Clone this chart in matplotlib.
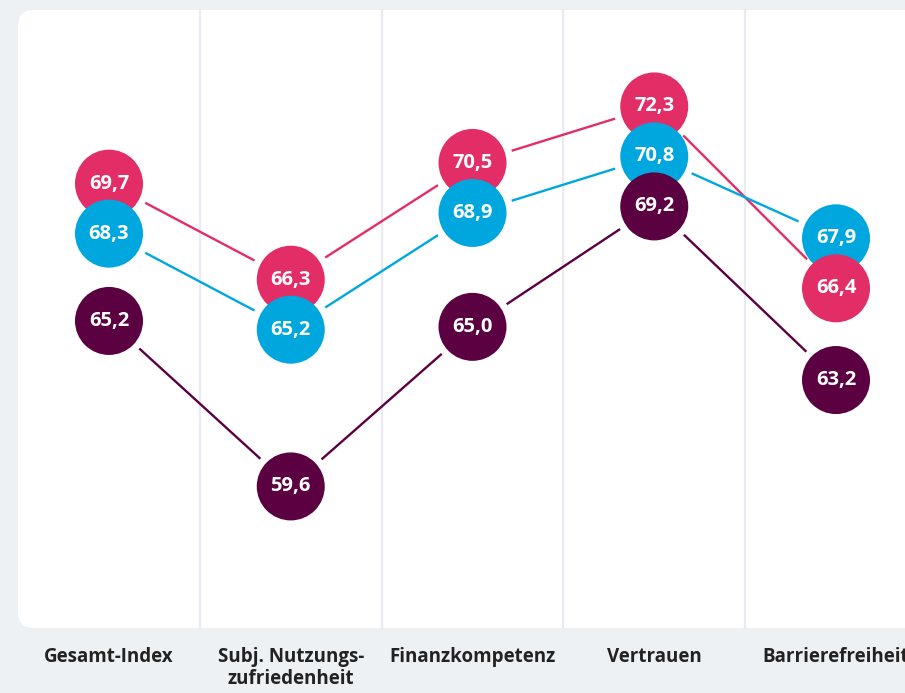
import numpy as np
import matplotlib.pyplot as plt
from matplotlib.patches import FancyBboxPatch

categories = ["Gesamt-Index", "Subj. Nutzungs-\nzufriedenheit", "Finanzkompetenz",
              "Vertrauen", "Barrierefreiheit"]
series_pink = [69.7, 66.3, 70.5, 72.3, 66.4]
series_blue = [68.3, 65.2, 68.9, 70.8, 67.9]
series_dark = [65.2, 59.6, 65.0, 69.2, 63.2]

colors = {"pink": "#e32d66", "blue": "#00a7de", "dark": "#5b0040"}
bg = "#eef1f4"

fig = plt.figure(figsize=(9.05, 6.93), dpi=100, facecolor=bg)
ax = fig.add_axes([0, 0, 1, 1])
ax.set_facecolor("none")
ax.set_xlim(-0.5997, 4.3796)
ax.set_ylim(52.61, 76.06)
ax.axis("off")

# white rounded panel (in inches so the corners stay round)
panel = FancyBboxPatch((0.18, 0.65), 9.4, 6.18, boxstyle="round,pad=0,rounding_size=0.16",
                       transform=fig.dpi_scale_trans, facecolor="white", edgecolor="none",
                       zorder=-10)
fig.patches.append(panel)

# separators between categories
y_lo, y_hi = 65 / 693, 683 / 693
for b in np.arange(0.5, len(categories) - 1, 1.0):
    ax.axvline(b, ymin=y_lo, ymax=y_hi, color="#e8ebef", lw=1.6, zorder=1)

xs = np.arange(len(categories))
radius_px = 34
gap_px = 41
min_sep_px = 50

series = [("pink", series_pink), ("blue", series_blue), ("dark", series_dark)]

# pixel positions, then push circles apart inside each column
pos = {}
for key, vals in series:
    pos[key] = ax.transData.transform(np.column_stack([xs, vals]))
for i in range(len(xs)):
    for _ in range(50):
        ys = sorted(((pos[k][i, 1], k) for k, _ in series))
        moved = False
        for (y0, k0), (y1, k1) in zip(ys[:-1], ys[1:]):
            d = y1 - y0
            if d < min_sep_px - 0.01:
                s = (min_sep_px - d) / 2
                pos[k0][i, 1] -= s
                pos[k1][i, 1] += s
                moved = True
        if not moved:
            break

inv = ax.transData.inverted()
diam_pt = 2 * radius_px * 72 / 100
for key, vals in series:
    c = colors[key]
    p = pos[key]
    for i in range(len(xs) - 1):
        v = p[i + 1] - p[i]
        u = v / np.hypot(*v)
        a = inv.transform(p[i] + u * gap_px)
        b = inv.transform(p[i + 1] - u * gap_px)
        ax.plot([a[0], b[0]], [a[1], b[1]], color=c, lw=1.7, solid_capstyle="butt", zorder=2)
    dpos = inv.transform(p)
    for (x, y), v in zip(dpos, vals):
        z = 10 + (80 - v)
        ax.scatter([x], [y], s=diam_pt ** 2, color=c, edgecolors="none", zorder=z)
        ax.text(x, y, f"{v:.1f}".replace(".", ","), color="white", ha="center", va="center",
                fontsize=14.5, fontweight="bold", family="Open Sans", zorder=z + 0.01)

lab_tr = ax.get_xaxis_transform()
for x, name in zip(xs, categories):
    ax.text(x, 1 - 647 / 693, name, transform=lab_tr, ha="center", va="top",
            fontsize=13.5, fontweight="bold", family="Open Sans", color="#222222",
            linespacing=1.15)

fig.savefig("out.png", dpi=100, facecolor=bg)
